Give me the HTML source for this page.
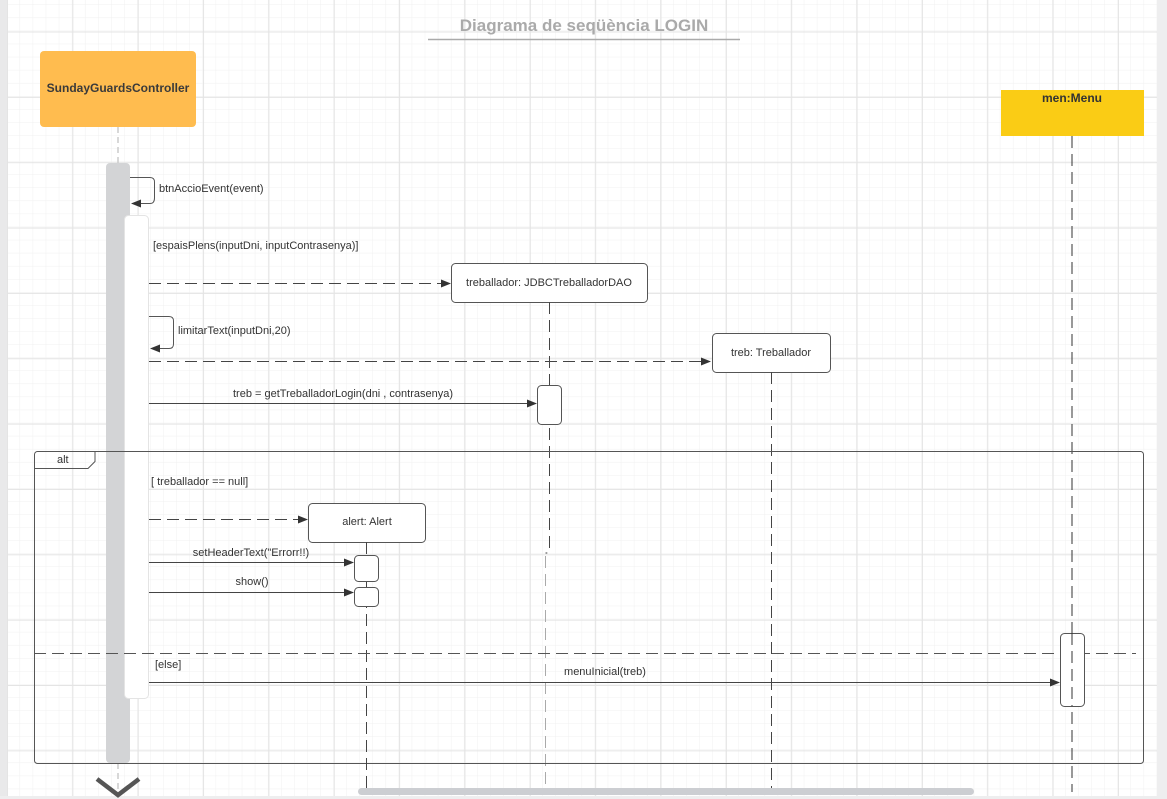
<!DOCTYPE html>
<html><head><meta charset="utf-8"><style>
html,body{margin:0;padding:0;background:#fff;}
svg{display:block;font-family:"Liberation Sans",Arial,sans-serif;}
</style></head><body>
<svg width="1167" height="799" viewBox="0 0 1167 799" xmlns="http://www.w3.org/2000/svg">
<defs>
<pattern id="minor" width="13.07" height="13.07" patternUnits="userSpaceOnUse" x="7" y="5">
<path d="M13.07 0V13.07M0 13.07H13.07" fill="none" stroke="#f0f0f0" stroke-width="1"/>
</pattern>
<pattern id="major" width="65.35" height="65.35" patternUnits="userSpaceOnUse" x="7" y="31.5">
<path d="M0.5 0V65.35M0 0.5H65.35" fill="none" stroke="#e4e4e4" stroke-width="1"/>
</pattern>
<marker id="ah" markerWidth="10" markerHeight="8" refX="9" refY="4" orient="auto" markerUnits="userSpaceOnUse">
<path d="M0 0L10 4L0 8Z" fill="#333"/>
</marker>
</defs>
<rect width="1167" height="799" fill="#fff"/>
<rect x="7" y="0" width="1150" height="797" fill="url(#minor)"/>
<rect x="7" y="0" width="1150" height="797" fill="url(#major)"/>
<rect x="0" y="0" width="7" height="799" fill="#e9e9ea"/>
<rect x="1157" y="0" width="10" height="799" fill="#eeeeef"/>
<rect x="0" y="796" width="1167" height="3" fill="#eeeeef"/>

<text x="584" y="31" text-anchor="middle" font-size="17" font-weight="bold" fill="#aaa">Diagrama de seqüència LOGIN</text>
<line x1="428" y1="39.5" x2="740" y2="39.5" stroke="#aaa" stroke-width="1.5"/>

<rect x="40" y="51" width="156" height="76" rx="4" fill="#FFBC4F"/>
<text x="118" y="92" text-anchor="middle" font-size="12" font-weight="bold" fill="#3a3a3a">SundayGuardsController</text>
<line x1="118" y1="127" x2="118" y2="163" stroke="#ccc" stroke-width="1.5" stroke-dasharray="6,4"/>
<line x1="118" y1="763" x2="118" y2="795" stroke="#ccc" stroke-width="1.5" stroke-dasharray="6,4"/>
<rect x="106" y="163" width="24" height="600" rx="4" fill="#d3d4d6"/>
<rect x="124.5" y="215.5" width="24" height="483" rx="4" fill="#fff" stroke="#e4e4e4"/>

<rect x="1001" y="90" width="143" height="46" fill="#FACC15"/>
<text x="1072" y="102" text-anchor="middle" font-size="12" font-weight="bold" fill="#333">men:Menu</text>
<line x1="1072" y1="136" x2="1072" y2="792" stroke="#333" stroke-width="1" stroke-dasharray="12,6"/>

<path d="M130 177.5H150Q154.5 177.5 154.5 182V198Q154.5 203.5 150 203.5H132" fill="none" stroke="#555" marker-end="url(#ah)"/>
<text x="159" y="192" font-size="11" fill="#333">btnAccioEvent(event)</text>

<text x="153" y="249" font-size="11" fill="#333">[espaisPlens(inputDni, inputContrasenya)]</text>

<line x1="149" y1="283.5" x2="450" y2="283.5" stroke="#444" stroke-dasharray="12,6" marker-end="url(#ah)"/>
<rect x="451.5" y="263.5" width="196" height="39" rx="4" fill="#fff" stroke="#555"/>
<text x="549" y="286" text-anchor="middle" font-size="11" fill="#333">treballador: JDBCTreballadorDAO</text>
<path d="M549.5 302V550Q549.5 553 546 553H545.5" fill="none" stroke="#444" stroke-dasharray="12,6"/>
<line x1="545.5" y1="556" x2="545.5" y2="792" stroke="#aaa" stroke-dasharray="12,6"/>

<path d="M149 316.5H169Q173.5 316.5 173.5 321V344Q173.5 348.5 169 348.5H151" fill="none" stroke="#555" marker-end="url(#ah)"/>
<text x="178" y="334" font-size="11" fill="#333">limitarText(inputDni,20)</text>

<line x1="149" y1="361.5" x2="710" y2="361.5" stroke="#444" stroke-dasharray="12,6" marker-end="url(#ah)"/>
<rect x="712.5" y="333.5" width="118" height="39" rx="4" fill="#fff" stroke="#555"/>
<text x="771" y="356" text-anchor="middle" font-size="11" fill="#333">treb: Treballador</text>
<line x1="771.5" y1="372" x2="771.5" y2="792" stroke="#444" stroke-dasharray="12,6"/>

<line x1="149" y1="403.5" x2="536" y2="403.5" stroke="#444" marker-end="url(#ah)"/>
<text x="343" y="397" text-anchor="middle" font-size="11" fill="#333">treb = getTreballadorLogin(dni , contrasenya)</text>
<rect x="537.5" y="385.5" width="24" height="39" rx="4" fill="#fff" stroke="#555"/>

<rect x="34.5" y="451.5" width="1109" height="312" rx="3" fill="none" stroke="#555"/>
<path d="M34.5 468.5H88L95 461.5V451.5" fill="none" stroke="#555"/>
<text x="57" y="463" font-size="11" fill="#333">alt</text>
<text x="151" y="485" font-size="11" fill="#333">[ treballador == null]</text>

<line x1="149" y1="519.5" x2="307" y2="519.5" stroke="#444" stroke-dasharray="12,6" marker-end="url(#ah)"/>
<rect x="308.5" y="503.5" width="117" height="39" rx="4" fill="#fff" stroke="#555"/>
<text x="367" y="525" text-anchor="middle" font-size="11" fill="#333">alert: Alert</text>
<line x1="366.5" y1="542" x2="366.5" y2="792" stroke="#444" stroke-dasharray="12,6"/>
<line x1="149" y1="562.5" x2="353" y2="562.5" stroke="#444" marker-end="url(#ah)"/>
<text x="251" y="556" text-anchor="middle" font-size="11" fill="#333">setHeaderText("Errorr!!)</text>
<rect x="354.5" y="555.5" width="24" height="26" rx="4" fill="#fff" stroke="#555"/>
<line x1="149" y1="592.5" x2="353" y2="592.5" stroke="#444" marker-end="url(#ah)"/>
<text x="252" y="585" text-anchor="middle" font-size="11" fill="#333">show()</text>
<rect x="354.5" y="587.5" width="24" height="19" rx="4" fill="#fff" stroke="#555"/>

<line x1="34" y1="653.5" x2="1136" y2="653.5" stroke="#555" stroke-dasharray="12,6"/>
<text x="155" y="668" font-size="11" fill="#333">[else]</text>
<rect x="1060.5" y="633.5" width="24" height="73" rx="4" fill="#fff" stroke="#555"/>
<line x1="1072" y1="633" x2="1072" y2="706" stroke="#333" stroke-dasharray="12,6"/>
<line x1="149" y1="682.5" x2="1059" y2="682.5" stroke="#444" marker-end="url(#ah)"/>
<text x="605" y="675" text-anchor="middle" font-size="11" fill="#333">menuInicial(treb)</text>

<path d="M97 779L118 795L139 779" fill="none" stroke="#555" stroke-width="4.5"/>
<rect x="358" y="788" width="616" height="7" rx="3.5" fill="#ccced2"/>
</svg>
</body></html>
